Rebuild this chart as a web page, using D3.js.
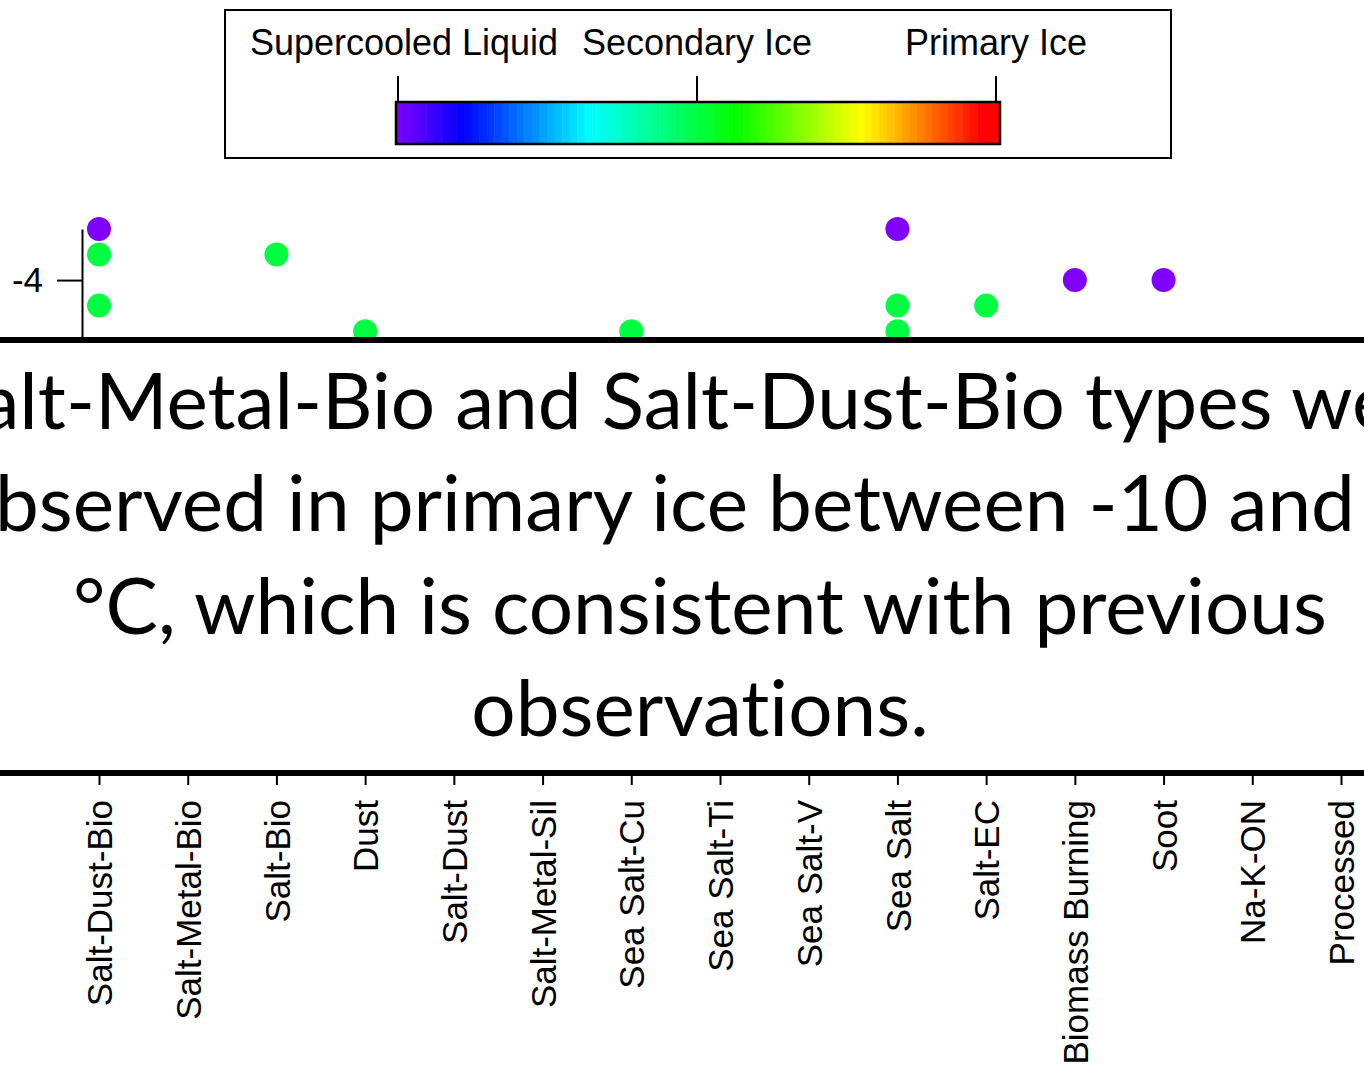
<!DOCTYPE html>
<html>
<head>
<meta charset="utf-8">
<script src="https://cdn.jsdelivr.net/npm/d3@7"></script>
<style>
  html, body { margin: 0; padding: 0; background: #fff; overflow: hidden; }
  svg { display: block; }
  text { font-variant-ligatures: none; font-feature-settings: "liga" 0, "clig" 0; }
</style>
</head>
<body>
<svg id="chart" width="1364" height="1067"></svg>
<script>
// Particle types along the x axis
const categories = ["Salt-Dust-Bio", "Salt-Metal-Bio", "Salt-Bio", "Dust", "Salt-Dust",
  "Salt-Metal-Sil", "Sea Salt-Cu", "Sea Salt-Ti", "Sea Salt-V", "Sea Salt", "Salt-EC",
  "Biomass Burning", "Soot", "Na-K-ON", "Processed"];

// Observations: particle type, temperature (°C) and cloud phase (0 liquid, 0.5 secondary, 1 primary)
const pointCategory = ["Salt-Dust-Bio", "Salt-Dust-Bio", "Salt-Dust-Bio", "Salt-Bio", "Dust",
  "Sea Salt-Cu", "Sea Salt", "Sea Salt", "Sea Salt", "Salt-EC", "Biomass Burning", "Soot"];
const pointTemp = [-2, -3, -5, -3, -6, -6, -2, -5, -6, -5, -4, -4];
const pointPhase = [0, 0.5, 0.5, 0.5, 0.5, 0.5, 0, 0.5, 0.5, 0.5, 0, 0];

// Colour bar
const phaseTicks = [0, 0.5, 1];
const phaseLabels = ["Supercooled Liquid", "Secondary Ice", "Primary Ice"];
const rampStops = [0, 0.11, 0.32, 0.56, 0.77, 0.97, 1];
const rampColors = ["#8000ff", "#0000ff", "#00ffff", "#00ff00", "#ffff00", "#ff0000", "#ff0000"];

// Temperature axis
const yTicks = [-4];

// Annotation text
const noteLines = [
  "Salt-Metal-Bio and Salt-Dust-Bio types were",
  "observed in primary ice between -10 and -5",
  "°C, which is consistent with previous",
  "observations."
];

const svg = d3.select("#chart");
const axisFont = "'Liberation Sans', Arial, Helvetica, sans-serif";

const color = d3.scaleLinear().domain(rampStops).range(rampColors);
const x = d3.scalePoint().domain(categories).range([99, 1341]);
const y = d3.scaleLinear().domain([-2, -23.3]).range([229, 773]);

// ---- plot area: y axis and points
const yAxis = svg.append("g")
  .attr("transform", "translate(82,0)")
  .call(d3.axisLeft(y).tickValues(yTicks).tickSize(25).tickPadding(14)
    .tickSizeOuter(0).tickFormat(d => String(d)));
yAxis.select(".domain").attr("stroke", "#000").attr("stroke-width", 2);
yAxis.selectAll(".tick line").attr("stroke", "#000").attr("stroke-width", 2);
yAxis.selectAll(".tick text").attr("font-family", axisFont).attr("font-size", 35)
  .attr("fill", "#000");

const points = pointTemp.map((t, i) => ({ cat: pointCategory[i], t, phase: pointPhase[i] }));
svg.append("g").selectAll("circle").data(points).join("circle")
  .attr("cx", d => x(d.cat))
  .attr("cy", d => y(d.t))
  .attr("r", 12)
  .attr("fill", d => color(d.phase));

// ---- annotation box over the plot
const boxTop = 340, boxBottom = 773;
svg.append("rect").attr("x", 0).attr("y", boxTop).attr("width", 1364)
  .attr("height", boxBottom - boxTop).attr("fill", "#fff");
svg.append("line").attr("x1", 0).attr("x2", 1364).attr("y1", boxTop).attr("y2", boxTop)
  .attr("stroke", "#000").attr("stroke-width", 6);

const note = svg.append("g").attr("font-family", "Lato, Carlito, Calibri, sans-serif")
  .attr("fill", "#000").attr("text-anchor", "middle");
const noteText = note.selectAll("text").data(noteLines).join("text")
  .attr("x", 700)
  .attr("y", (d, i) => 429 + i * 102.3)
  .attr("font-size", 100)
  .text(d => d);
// size the note so the third line spans its measured width
const ref = noteText.nodes()[2].getComputedTextLength();
noteText.attr("font-size", 100 * 1254 / ref);

// ---- x axis
const xAxis = svg.append("g")
  .attr("transform", `translate(0,${boxBottom})`)
  .call(d3.axisBottom(x).tickSize(12).tickSizeOuter(0));
xAxis.select(".domain").remove();
xAxis.append("line").attr("x1", 0).attr("x2", 1364).attr("stroke", "#000").attr("stroke-width", 6);
xAxis.selectAll(".tick line").attr("stroke", "#000").attr("stroke-width", 2);
xAxis.selectAll(".tick text")
  .attr("font-family", axisFont).attr("font-size", 35).attr("fill", "#000")
  .attr("text-anchor", "end")
  .attr("transform", "rotate(-90)")
  .attr("x", -27).attr("y", 0).attr("dy", "0.36em");

// ---- colour bar legend
const legend = svg.append("g");
legend.append("rect").attr("x", 225).attr("y", 10).attr("width", 946).attr("height", 148)
  .attr("fill", "#fff").attr("stroke", "#000").attr("stroke-width", 2);

const cx = d3.scaleLinear().domain([0, 1]).range([398, 996]);
const barTop = 102, barH = 42;
const barX0 = cx(0) - 2, barX1 = cx(1) + 4;
const steps = 80;
const bx = d3.scaleLinear().domain([0, steps]).range([barX0, barX1]);
legend.append("g").selectAll("rect").data(d3.range(steps)).join("rect")
  .attr("x", i => bx(i))
  .attr("y", barTop)
  .attr("width", i => bx(i + 1) - bx(i) + 0.5)
  .attr("height", barH)
  .attr("fill", i => color((i + 0.5) / steps));
legend.append("rect").attr("x", barX0).attr("y", barTop).attr("width", barX1 - barX0)
  .attr("height", barH).attr("fill", "none").attr("stroke", "#000").attr("stroke-width", 2.5);

legend.selectAll("line.tk").data(phaseTicks).join("line").attr("class", "tk")
  .attr("x1", d => cx(d)).attr("x2", d => cx(d))
  .attr("y1", 76).attr("y2", barTop)
  .attr("stroke", "#000").attr("stroke-width", 2);
legend.selectAll("text").data(phaseLabels).join("text")
  .attr("x", (d, i) => cx(phaseTicks[i]) + (i === 0 ? 6 : 0))
  .attr("y", 55)
  .attr("text-anchor", "middle")
  .attr("font-family", axisFont).attr("font-size", 36).attr("fill", "#000")
  .text(d => d);
</script>
</body>
</html>
